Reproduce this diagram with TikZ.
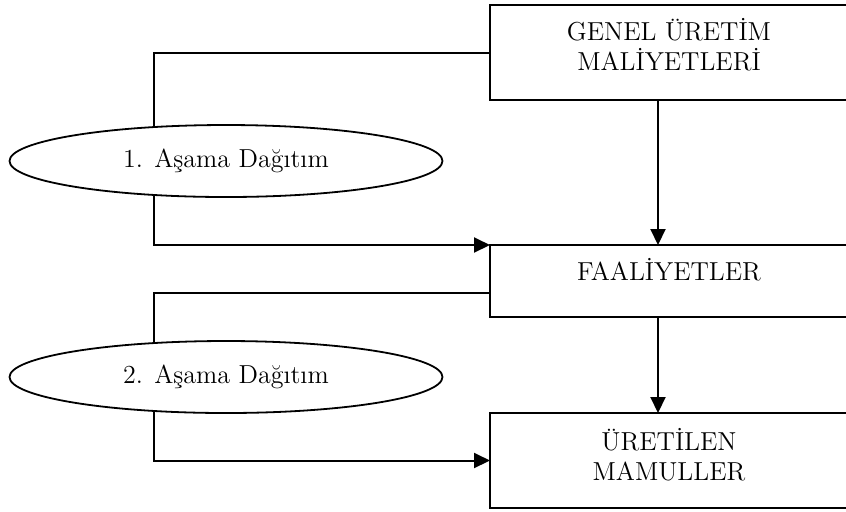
\documentclass[tikz,border=0pt]{standalone}
\usetikzlibrary{arrows.meta,shapes.geometric,backgrounds,calc}
\begin{document}
\begin{tikzpicture}[x=0.5pt,y=-0.5pt,
  box/.style={draw,line width=1pt,minimum width=179pt,minimum height=#1,anchor=north west,inner sep=0pt,outer sep=0pt},
  lbl/.style={anchor=north,align=center,font=\fontsize{13}{15}\selectfont,inner sep=0pt},
  oval/.style={ellipse,draw,fill=white,line width=0.9pt,minimum width=216.5pt,minimum height=36pt,inner sep=0pt,outer sep=0pt,font=\fontsize{13}{15}\selectfont},
  conn/.style={line width=1pt},
  arr/.style={conn,-{Triangle[length=8pt,width=7.5pt]}}]
\useasboundingbox (0,0) rectangle (846,511);
\clip (0,0) rectangle (846,511);
% boxes
\node[box=47.5pt] (gum) at (490,5) {};
\node[box=36pt] (fa) at (490,245) {};
\node[box=47.5pt] (um) at (490,413) {};
\node[lbl] (gumt) at (669,18) {GENEL ÜRETİM\\MALİYETLERİ};
\node[lbl] (fat) at (669,258) {FAALİYETLER};
\node[lbl] (umt) at (669,428) {ÜRETİLEN\\MAMULLER};
% ovals
\node[oval] (e1) at (226,161) {1. Aşama Dağıtım};
\node[oval] (e2) at (226,377) {2. Aşama Dağıtım};
% helper coordinates
\coordinate (xl) at (154,0);
\coordinate (ax) at (658,0);
\coordinate (faout) at ($(fa.north west)!0.667!(fa.south west)$);
\begin{scope}[on background layer]
\draw[conn] (gum.west) -| (xl |- e1);
\draw[arr] (xl |- e1) |- (fa.north west);
\draw[conn] (faout) -| (xl |- e2);
\draw[arr] (xl |- e2) |- (um.west);
\end{scope}
\draw[arr] (gum.south -| ax) -- (fa.north -| ax);
\draw[arr] (fa.south -| ax) -- (um.north -| ax);
\end{tikzpicture}
\end{document}
